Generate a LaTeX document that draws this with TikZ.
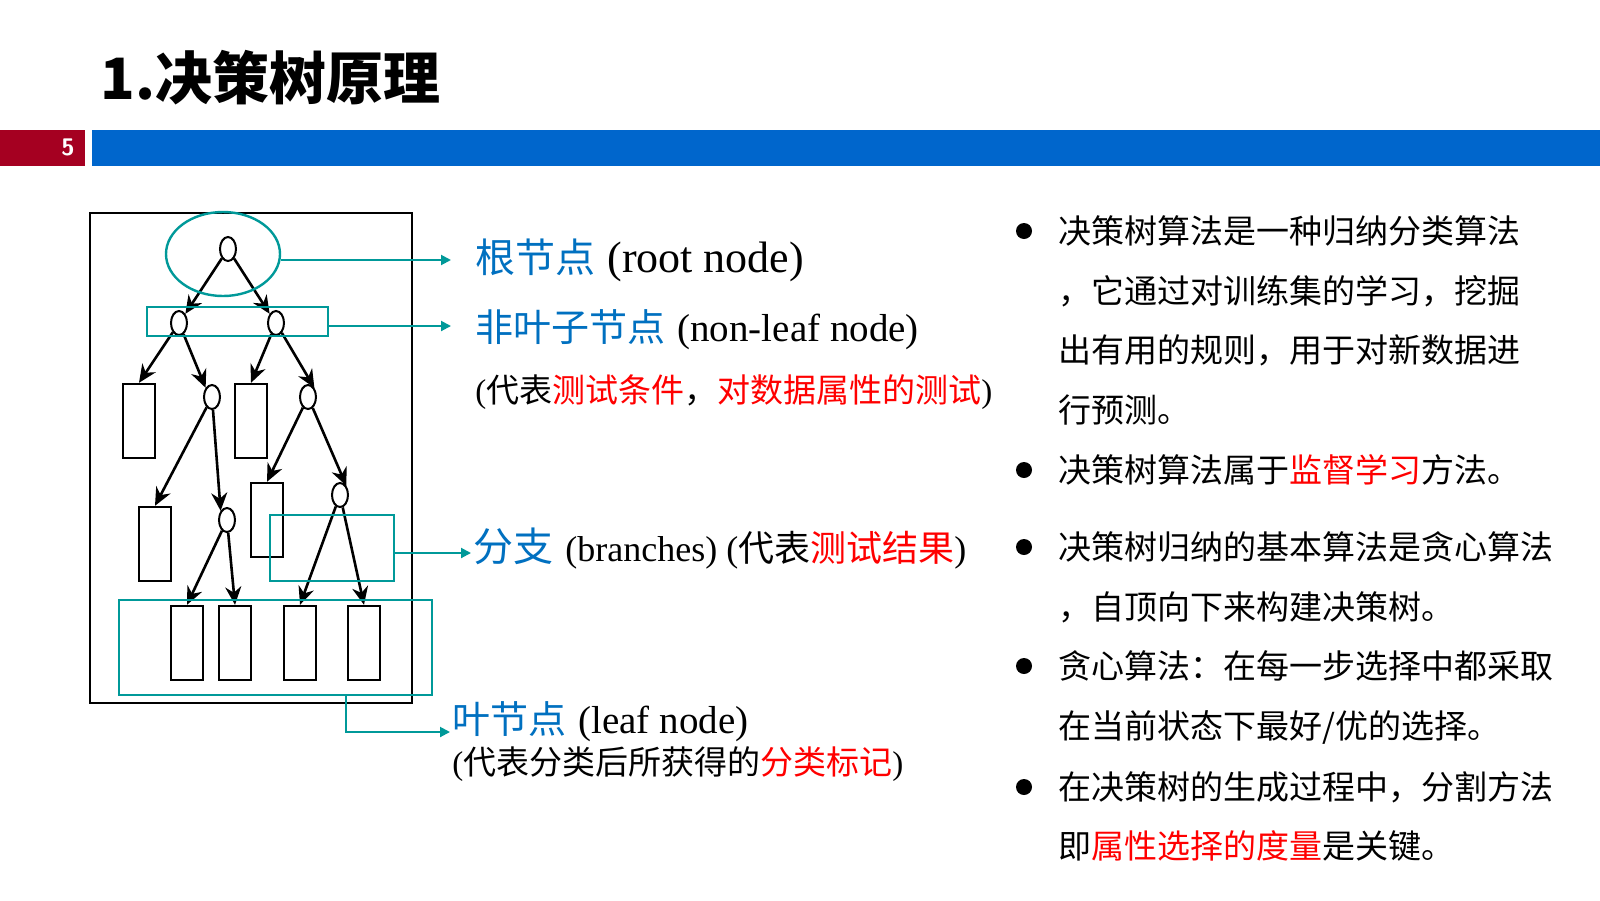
\documentclass[tikz,border=0pt]{standalone}
\usepackage{fontspec}
\usetikzlibrary{arrows.meta,shapes.geometric}
\setmainfont{Liberation Serif}
\newfontfamily\cjk{Noto Sans CJK SC}
\definecolor{teal1}{RGB}{0,153,153}
\definecolor{blu}{RGB}{0,112,192}
\definecolor{barblue}{RGB}{0,102,204}
\definecolor{barred}{RGB}{165,0,33}
\newcommand{\R}[1]{\textcolor{red}{#1}}
\begin{document}
\begin{tikzpicture}[x=0.5pt,y=-0.5pt,
  tn/.style={draw,line width=1pt,ellipse,minimum width=8pt,minimum height=12pt,inner sep=0pt},
  lf/.style={draw,line width=1.2pt,minimum width=16pt,minimum height=37pt,inner sep=0pt},
  ta/.style={-{Stealth[length=9pt,width=8pt]},line width=1.3pt},
  hl/.style={draw=teal1,line width=1.2pt},
  co/.style={teal1,line width=1pt,-{Triangle[length=5pt,width=5pt]}},
  bt/.style={anchor=west,inner sep=0pt,font=\cjk\fontsize{16.5pt}{18pt}\selectfont},
  bul/.style={circle,fill=black,minimum size=8pt,inner sep=0pt}]
\useasboundingbox (0,0) rectangle (1600,900);
\fill[white] (0,0) rectangle (1600,900);
% title and bar
\node[anchor=base west,inner sep=0pt,font=\cjk\bfseries\fontsize{28.5pt}{30pt}\selectfont] (title) at (100,99) {1.决策树原理};
\fill[barred] (0,130) rectangle (85,166);
\fill[barblue] (92,130) rectangle (1600,166);
\node[font=\sffamily\bfseries\fontsize{12pt}{14pt}\selectfont,text=white] (num) at (68,147) {5};
% tree frame
\draw[line width=1pt] (90,213) rectangle (412,703);
\node[tn] (r) at (228,249) {};
\node[tn] (a) at (179,323) {};
\node[tn] (b) at (276,323) {};
\node[lf] (la) at (139,421) {};
\node[tn] (c) at (212,397) {};
\node[lf] (lb) at (251,421) {};
\node[tn] (d) at (308,397) {};
\node[lf] (lc) at (155,544) {};
\node[tn] (e) at (227,520) {};
\node[lf] (ld) at (267,520) {};
\node[tn] (f) at (340,495) {};
\node[lf] (l1) at (187,643) {};
\node[lf] (l2) at (235,643) {};
\node[lf] (l3) at (300,643) {};
\node[lf] (l4) at (364,643) {};
\draw[ta] (r) -- (a.north east);
\draw[ta] (r) -- (b.north west);
\draw[ta] (a) -- (la.north);
\draw[ta] (a) -- (c.north west);
\draw[ta] (b) -- (lb.north);
\draw[ta] (b) -- (d.north east);
\draw[ta] (c) -- (lc.north);
\draw[ta] (c) -- (e.north west);
\draw[ta] (d) -- (ld.north);
\draw[ta] (d) -- (f.north east);
\draw[ta] (e) -- (l1.north);
\draw[ta] (e) -- (l2.north);
\draw[ta] (f) -- (l3.north);
\draw[ta] (f) -- (l4.north);
% highlights
\node[hl,ellipse,minimum width=57pt,minimum height=42pt] (hr) at (223,254) {};
\node[hl,minimum width=90.5pt,minimum height=14.5pt,inner sep=0pt] (hn) at (237.5,321.5) {};
\node[hl,minimum width=62pt,minimum height=33pt,inner sep=0pt] (hb) at (332,548) {};
\node[hl,minimum width=156.5pt,minimum height=47.5pt,inner sep=0pt] (hlf) at (275.5,647.5) {};
% labels
\node[anchor=west,inner sep=0pt] (t1) at (475,260) {\textcolor{blu}{\cjk\fontsize{20pt}{22pt}\selectfont 根节点}\hspace{6pt}\fontsize{22pt}{24pt}\selectfont(root node)};
\node[anchor=west,inner sep=0pt] (t2) at (475,330) {\textcolor{blu}{\cjk\fontsize{19pt}{20pt}\selectfont 非叶子节点}\hspace{6pt}\fontsize{19.5pt}{20pt}\selectfont(non-leaf node)};
\node[anchor=west,inner sep=0pt] (t3) at (475,392) {\fontsize{16.5pt}{18pt}\selectfont(\cjk 代表\R{测试条件}，\R{对数据属性的测试}\rmfamily)};
\node[anchor=west,inner sep=0pt] (t4) at (473,549) {\textcolor{blu}{\cjk\fontsize{20pt}{22pt}\selectfont 分支}\hspace{6pt}\fontsize{18pt}{20pt}\selectfont(branches) (\cjk 代表\R{测试结果}\rmfamily)};
\node[anchor=west,inner sep=0pt] (t5) at (452,722) {\textcolor{blu}{\cjk\fontsize{19pt}{20pt}\selectfont 叶节点}\hspace{6pt}\fontsize{19.5pt}{20pt}\selectfont(leaf node)};
\node[anchor=west,inner sep=0pt] (t6) at (452,764) {\fontsize{16.5pt}{18pt}\selectfont(\cjk 代表分类后所获得的\R{分类标记}\rmfamily)};
% connectors
\draw[co] (hr.east |- 0,260) -- ([xshift=-12pt]t1.west |- 0,260);
\draw[co] (hn.east |- 0,326) -- ([xshift=-12pt]t2.west |- 0,326);
\draw[co] (hb.east |- 0,553) -- ([xshift=-1pt]t4.west |- 0,553);
\coordinate (k) at (346,732);
\draw[co] (hlf.south -| k) -- (k) -- ([xshift=-1pt]t5.west |- k);
% right bullets
\foreach \y in {231,470,547,666,787} \node[bul] at (1024,\y) {};
\node[bt] (p1) at (1058,231) {决策树算法是一种归纳分类算法};
\node[bt] (p2) at (1058,291) {，它通过对训练集的学习，挖掘};
\node[bt] (p3) at (1058,350) {出有用的规则，用于对新数据进};
\node[bt] (p4) at (1058,410) {行预测。};
\node[bt] (p5) at (1058,470) {决策树算法属于\R{监督学习}方法。};
\node[bt] (p6) at (1058,547) {决策树归纳的基本算法是贪心算法};
\node[bt] (p7) at (1058,607) {，自顶向下来构建决策树。};
\node[bt] (p8) at (1058,666) {贪心算法：在每一步选择中都采取};
\node[bt] (p9) at (1058,727) {在当前状态下最好/优的选择。};
\node[bt] (p10) at (1058,787) {在决策树的生成过程中，分割方法};
\node[bt] (p11) at (1058,846) {即\R{属性选择的度量}是关键。};
\end{tikzpicture}
\end{document}
